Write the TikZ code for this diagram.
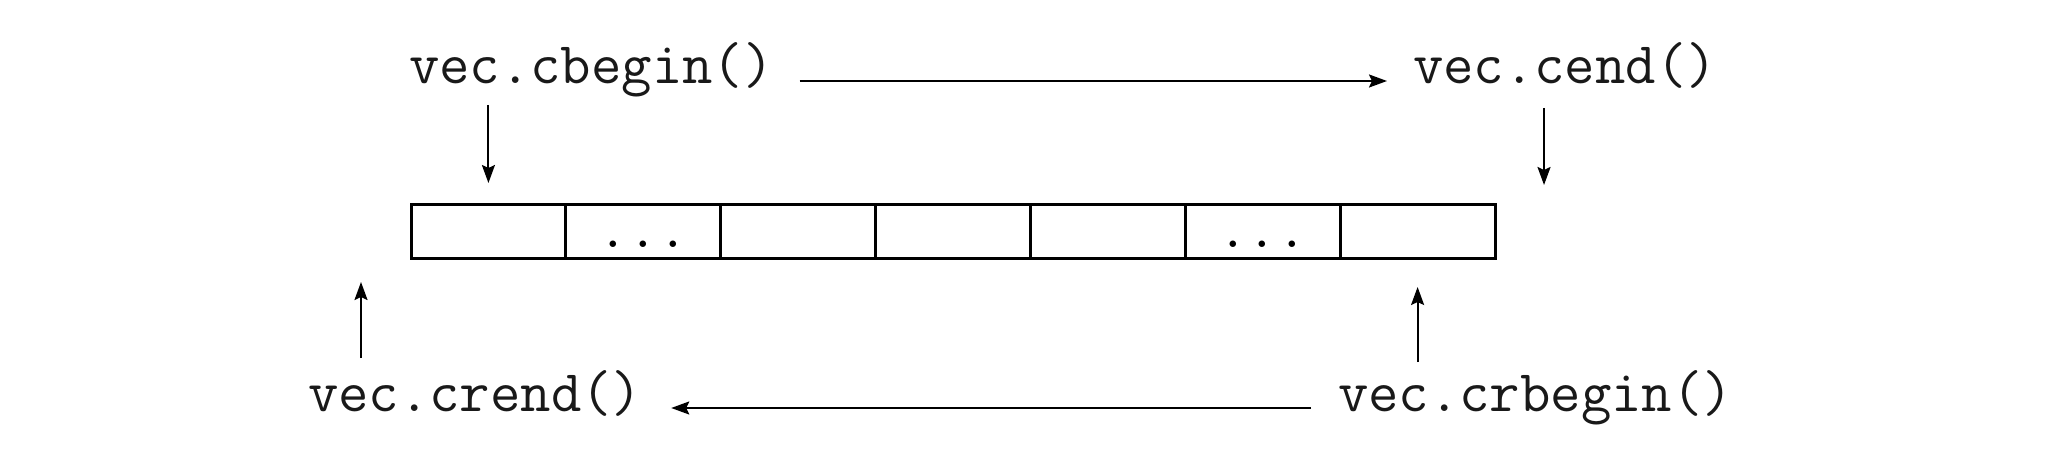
\documentclass[tikz,border=0pt]{standalone}
\usepackage{fontspec}
\usetikzlibrary{arrows.meta,calc}
\begin{document}
\begin{tikzpicture}[x=1pt,y=1pt,
  lbl/.style={inner sep=0pt,outer sep=0pt,anchor=base west,text height=35pt,text depth=12pt,
    font=\ttfamily\fontsize{59}{68}\selectfont,text=black!90},
  cell/.style={draw,line width=3pt,minimum width=154.86pt,minimum height=54pt,inner sep=0pt,outer sep=0pt},
  dots/.style={font=\ttfamily\fontsize{57.5}{66}\selectfont,inner sep=0pt,anchor=base},
  arr/.style={line width=2pt,-{Stealth[length=18pt,width=13pt,inset=3pt]}}]
\useasboundingbox (0,0) rectangle (2064,-462);
% labels
\node[lbl] (T1) at (409,-84) {vec.cbegin()};
\node[lbl] (T2) at (1413,-84) {vec.cend()};
\node[lbl] (T3) at (308,-411) {vec.crend()};
\node[lbl] (T4) at (1338,-411) {vec.crbegin()};
% cells
\foreach \i in {1,...,7} {
  \node[cell] (c\i) at ({411+154.86*(\i-0.5)},-232) {};
}
\node[dots] (d2) at ($(c2.center)+(0,-16)$) {...};
\node[dots] (d6) at ($(c6.center)+(0,-16)$) {...};
% positions outside the array
\coordinate (cendpos) at ($(c7.north east)+(49,0)$);
\coordinate (rendpos) at ($(c1.south west)+(-50,0)$);
% horizontal arrows
\draw[arr,shorten <=26pt,shorten >=26pt] ([yshift=3pt]T1.base east) -- ([yshift=3pt]T2.base west);
\draw[arr,shorten <=27pt,shorten >=29pt] ([yshift=3pt]T4.base west) -- ([yshift=3pt]T3.base east);
% vertical arrows
\draw[arr,shorten <=9pt,shorten >=22pt] (c1.north |- T1.south) -- (c1.north);
\draw[arr,shorten <=12pt,shorten >=20pt] (cendpos |- T2.south) -- (cendpos);
\draw[arr,shorten <=18pt,shorten >=23pt] (rendpos |- T3.north) -- (rendpos);
\draw[arr,shorten <=14pt,shorten >=28pt] (c7.south |- T4.north) -- (c7.south);
\end{tikzpicture}
\end{document}
